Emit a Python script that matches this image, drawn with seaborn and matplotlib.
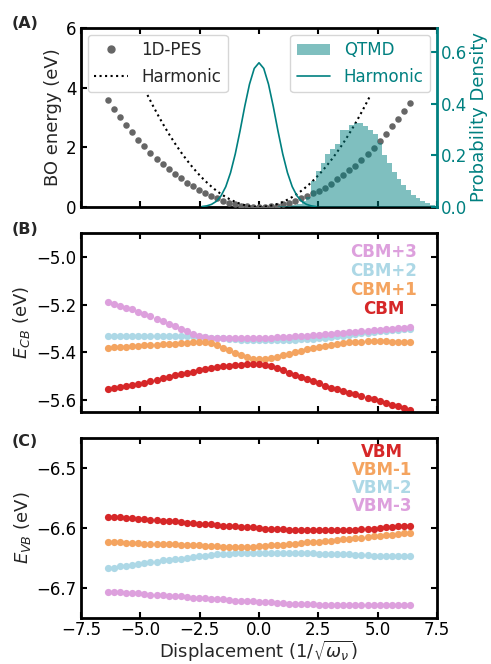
import numpy as np
import pandas as pd
import matplotlib
matplotlib.use("Agg")
import matplotlib.pyplot as plt
import seaborn as sns
from matplotlib.patches import Patch
from matplotlib.lines import Line2D

# ---------------- data ----------------
disp = [-6.350, -6.096, -5.842, -5.588, -5.334, -5.080, -4.826, -4.572, -4.318, -4.064,
        -3.810, -3.556, -3.302, -3.048, -2.794, -2.540, -2.286, -2.032, -1.778, -1.524,
        -1.270, -1.016, -0.762, -0.508, -0.254, 0.000, 0.254, 0.508, 0.762, 1.016,
        1.270, 1.524, 1.778, 2.032, 2.286, 2.540, 2.794, 3.048, 3.302, 3.556,
        3.810, 4.064, 4.318, 4.572, 4.826, 5.080, 5.334, 5.588, 5.842, 6.096, 6.350]

pes = [3.58, 3.27, 3.02, 2.75, 2.51, 2.26, 2.03, 1.82, 1.62, 1.44,
       1.27, 1.10, 0.96, 0.82, 0.69, 0.58, 0.47, 0.38, 0.30, 0.21,
       0.14, 0.09, 0.05, 0.02, 0.006, 0.0, 0.006, 0.02, 0.05, 0.09,
       0.14, 0.21, 0.29, 0.38, 0.46, 0.55, 0.65, 0.78, 0.93, 1.08,
       1.23, 1.39, 1.59, 1.79, 1.98, 2.20, 2.45, 2.71, 2.96, 3.21, 3.49]

harm_x = [-4.700, -4.465, -4.230, -3.995, -3.760, -3.525, -3.290, -3.055, -2.820, -2.585,
          -2.350, -2.115, -1.880, -1.645, -1.410, -1.175, -0.940, -0.705, -0.470, -0.235,
          0.000, 0.235, 0.470, 0.705, 0.940, 1.175, 1.410, 1.645, 1.880, 2.115,
          2.350, 2.585, 2.820, 3.055, 3.290, 3.525, 3.760, 3.995, 4.230, 4.465, 4.700]
harm_e = [3.755, 3.389, 3.042, 2.713, 2.403, 2.112, 1.840, 1.587, 1.352, 1.136,
          0.939, 0.760, 0.601, 0.460, 0.338, 0.235, 0.150, 0.0845, 0.0376, 0.0094,
          0.0, 0.0094, 0.0376, 0.0845, 0.150, 0.235, 0.338, 0.460, 0.601, 0.760,
          0.939, 1.136, 1.352, 1.587, 1.840, 2.112, 2.403, 2.713, 3.042, 3.389, 3.755]

psi_x = [-2.4, -2.2, -2.0, -1.8, -1.6, -1.4, -1.2, -1.0, -0.8, -0.6, -0.4, -0.2, 0.0,
         0.2, 0.4, 0.6, 0.8, 1.0, 1.2, 1.4, 1.6, 1.8, 2.0, 2.2, 2.4]
psi_d = [0.0018, 0.0044, 0.0103, 0.0219, 0.0433, 0.0789, 0.133, 0.206, 0.295, 0.391, 0.477, 0.538, 0.560,
         0.538, 0.477, 0.391, 0.295, 0.206, 0.133, 0.0789, 0.0433, 0.0219, 0.0103, 0.0044, 0.0018]

qtmd_edges = [0.8, 1.0, 1.2, 1.4, 1.6, 1.8, 2.0, 2.2, 2.4, 2.6, 2.8, 3.0, 3.2, 3.4, 3.6, 3.8, 4.0,
              4.2, 4.4, 4.6, 4.8, 5.0, 5.2, 5.4, 5.6, 5.8, 6.0, 6.2, 6.4, 6.6, 6.8, 7.0, 7.2, 7.4]
qtmd_centers = [0.9, 1.1, 1.3, 1.5, 1.7, 1.9, 2.1, 2.3, 2.5, 2.7, 2.9, 3.1, 3.3, 3.5, 3.7, 3.9, 4.1,
                4.3, 4.5, 4.7, 4.9, 5.1, 5.3, 5.5, 5.7, 5.9, 6.1, 6.3, 6.5, 6.7, 6.9, 7.1, 7.3]
qtmd_dens = [0.002, 0.003, 0.005, 0.008, 0.013, 0.022, 0.040, 0.100, 0.140, 0.170, 0.205, 0.225,
             0.245, 0.300, 0.300, 0.318, 0.328, 0.328, 0.315, 0.300, 0.285, 0.250, 0.200, 0.170,
             0.137, 0.110, 0.085, 0.066, 0.047, 0.034, 0.023, 0.014, 0.008]

cbm3 = [-5.188, -5.198, -5.205, -5.213, -5.220, -5.229, -5.239, -5.249, -5.259, -5.269,
        -5.280, -5.290, -5.301, -5.311, -5.322, -5.332, -5.336, -5.338, -5.339, -5.340,
        -5.341, -5.341, -5.341, -5.341, -5.341, -5.340, -5.339, -5.338, -5.337, -5.336,
        -5.335, -5.333, -5.331, -5.330, -5.328, -5.326, -5.324, -5.322, -5.320, -5.318,
        -5.316, -5.314, -5.312, -5.310, -5.308, -5.306, -5.304, -5.302, -5.300, -5.298, -5.295]
cbm2 = [-5.333, -5.333, -5.333, -5.333, -5.333, -5.333, -5.333, -5.333, -5.333, -5.333,
        -5.333, -5.333, -5.333, -5.333, -5.333, -5.334, -5.336, -5.338, -5.340, -5.342,
        -5.344, -5.346, -5.347, -5.348, -5.349, -5.350, -5.350, -5.350, -5.349, -5.349,
        -5.348, -5.347, -5.346, -5.345, -5.343, -5.341, -5.339, -5.336, -5.333, -5.330,
        -5.327, -5.324, -5.321, -5.318, -5.315, -5.312, -5.309, -5.307, -5.305, -5.303, -5.302]
cbm1 = [-5.381, -5.379, -5.378, -5.376, -5.375, -5.373, -5.371, -5.370, -5.368, -5.366,
        -5.365, -5.363, -5.361, -5.360, -5.358, -5.357, -5.356, -5.360, -5.368, -5.380,
        -5.392, -5.404, -5.413, -5.420, -5.426, -5.428, -5.427, -5.423, -5.418, -5.412,
        -5.406, -5.400, -5.394, -5.388, -5.382, -5.377, -5.372, -5.368, -5.364, -5.361,
        -5.358, -5.356, -5.355, -5.354, -5.354, -5.354, -5.354, -5.355, -5.355, -5.355, -5.356]
cbm0 = [-5.555, -5.551, -5.547, -5.542, -5.538, -5.533, -5.528, -5.522, -5.516, -5.509,
        -5.503, -5.497, -5.491, -5.486, -5.481, -5.476, -5.471, -5.467, -5.463, -5.459,
        -5.456, -5.453, -5.451, -5.449, -5.448, -5.449, -5.453, -5.459, -5.467, -5.476,
        -5.485, -5.494, -5.503, -5.512, -5.521, -5.530, -5.539, -5.548, -5.555, -5.562,
        -5.569, -5.576, -5.583, -5.590, -5.597, -5.604, -5.612, -5.619, -5.626, -5.633, -5.640]

vbm0 = [-6.581, -6.582, -6.582, -6.583, -6.584, -6.585, -6.585, -6.586, -6.587, -6.588,
        -6.589, -6.589, -6.590, -6.591, -6.592, -6.593, -6.593, -6.594, -6.595, -6.596,
        -6.597, -6.597, -6.598, -6.599, -6.599, -6.600, -6.601, -6.601, -6.602, -6.602,
        -6.603, -6.603, -6.603, -6.604, -6.604, -6.604, -6.604, -6.604, -6.604, -6.603,
        -6.603, -6.603, -6.602, -6.602, -6.601, -6.600, -6.599, -6.598, -6.597, -6.597, -6.596]
vbm1 = [-6.624, -6.624, -6.624, -6.625, -6.625, -6.625, -6.626, -6.626, -6.626, -6.627,
        -6.627, -6.627, -6.628, -6.628, -6.629, -6.629, -6.630, -6.630, -6.630, -6.631,
        -6.631, -6.631, -6.631, -6.631, -6.631, -6.630, -6.630, -6.629, -6.629, -6.628,
        -6.627, -6.626, -6.625, -6.624, -6.624, -6.623, -6.622, -6.621, -6.620, -6.619,
        -6.618, -6.617, -6.616, -6.615, -6.614, -6.613, -6.612, -6.611, -6.610, -6.609, -6.608]
vbm2 = [-6.667, -6.666, -6.664, -6.663, -6.661, -6.660, -6.658, -6.657, -6.656, -6.654,
        -6.653, -6.652, -6.651, -6.650, -6.648, -6.647, -6.646, -6.645, -6.644, -6.644,
        -6.643, -6.642, -6.642, -6.641, -6.641, -6.641, -6.641, -6.641, -6.641, -6.641,
        -6.641, -6.642, -6.642, -6.642, -6.642, -6.643, -6.643, -6.643, -6.644, -6.644,
        -6.644, -6.645, -6.645, -6.645, -6.646, -6.646, -6.646, -6.647, -6.647, -6.647, -6.647]
vbm3 = [-6.706, -6.707, -6.707, -6.708, -6.709, -6.709, -6.710, -6.711, -6.711, -6.712,
        -6.713, -6.713, -6.714, -6.715, -6.716, -6.716, -6.717, -6.718, -6.719, -6.719,
        -6.720, -6.721, -6.721, -6.722, -6.722, -6.723, -6.724, -6.724, -6.725, -6.725,
        -6.726, -6.726, -6.727, -6.727, -6.727, -6.728, -6.728, -6.728, -6.728, -6.729,
        -6.729, -6.729, -6.729, -6.729, -6.729, -6.729, -6.729, -6.729, -6.729, -6.729, -6.729]

cb_labels = ["CBM+3", "CBM+2", "CBM+1", "CBM"]
vb_labels = ["VBM", "VBM-1", "VBM-2", "VBM-3"]
x_ticks = [-7.5, -5.0, -2.5, 0.0, 2.5, 5.0, 7.5]

# ---------------- style ----------------
sns.set_theme(style="ticks")
plt.rcParams["font.family"] = ["DejaVu Sans"]
plt.rcParams["mathtext.fontset"] = "dejavusans"

RED = "#d62728"
ORANGE = "#f4a460"
LBLUE = "#add8e6"
PLUM = "#dda0dd"
TEAL = "#008080"
GRAY = "#666666"

fig = plt.figure(figsize=(4.91, 6.64), dpi=100)
L, R = 81 / 491, 437 / 491
H = 664
axA = fig.add_axes([L, 1 - 207 / H, R - L, 179 / H])
axB = fig.add_axes([L, 1 - 412 / H, R - L, 179 / H])
axC = fig.add_axes([L, 1 - 618 / H, R - L, 180 / H])

TICK = 12
LAB = 13


def style_axes(ax, right=True):
    for s in ax.spines.values():
        s.set_linewidth(2.0)
        s.set_color("black")
    ax.tick_params(direction="in", length=4, width=1.5, top=True, right=right,
                   labelsize=TICK, colors="black", pad=3)
    ax.set_xlim(-7.5, 7.5)
    ax.set_xticks(x_ticks)


# ---------------- panel A ----------------
axA2 = axA.twinx()
sns.scatterplot(x=disp, y=pes, color=GRAY, s=22, linewidth=0, ax=axA, zorder=3)
sns.lineplot(x=harm_x, y=harm_e, color="black", linestyle=":", linewidth=1.5, ax=axA,
             sort=False, zorder=3)
axA.set_ylim(0, 6)
axA.set_yticks([0, 2, 4, 6])
style_axes(axA, right=False)
axA.tick_params(labelbottom=False)
axA.set_ylabel("BO energy (eV)", fontsize=LAB, labelpad=3)
axA.spines["right"].set_visible(False)

sns.histplot(x=qtmd_centers, weights=qtmd_dens, bins=qtmd_edges, stat="count",
             color=TEAL, alpha=0.5, linewidth=0, element="bars", ax=axA2)
sns.lineplot(x=psi_x, y=psi_d, color=TEAL, linewidth=1.2, ax=axA2, sort=False)
axA2.set_ylim(0, 0.695)
axA2.set_yticks([0.0, 0.2, 0.4, 0.6])
axA2.set_yticklabels(["0.0", "0.2", "0.4", "0.6"])
for k in ["left", "top", "bottom"]:
    axA2.spines[k].set_visible(False)
axA2.spines["right"].set_color(TEAL)
axA2.spines["right"].set_linewidth(2.0)
axA2.tick_params(axis="y", direction="in", length=4, width=1.5, colors=TEAL,
                 labelsize=TICK, labelcolor=TEAL, pad=3)
axA2.set_ylabel("Probability Density", fontsize=LAB, color=TEAL, labelpad=2)
axA2.set_xlim(-7.5, 7.5)

leg1 = axA.legend(handles=[
    Line2D([], [], marker="o", linestyle="none", color=GRAY, markersize=5),
    Line2D([], [], linestyle=":", color="black", linewidth=1.5)],
    labels=["1D-PES", "Harmonic"], loc="upper left", fontsize=12,
    handlelength=2.0, borderaxespad=0.4)
leg1.set_zorder(10)
axA2.legend(handles=[Patch(facecolor=TEAL, alpha=0.5, edgecolor="none"),
                     Line2D([], [], color=TEAL, linewidth=1.2)],
            labels=["QTMD", "Harmonic"], loc="upper right", fontsize=12,
            labelcolor=TEAL, handlelength=2.0, borderaxespad=0.4)

# ---------------- panel B ----------------
for vals, c in [(cbm2, LBLUE), (cbm3, PLUM), (cbm1, ORANGE), (cbm0, RED)]:
    sns.scatterplot(x=disp, y=vals, color=c, s=27, linewidth=0, ax=axB)
axB.set_ylim(-5.65, -4.9)
axB.set_yticks([-5.6, -5.4, -5.2, -5.0])
style_axes(axB)
axB.tick_params(labelbottom=False)
axB.set_ylabel(r"$E_{CB}$ (eV)", fontsize=LAB, labelpad=3)
for lab, c, yy in zip(cb_labels, [PLUM, LBLUE, ORANGE, RED], [0.895, 0.789, 0.682, 0.575]):
    axB.text(0.85, yy, lab, color=c, fontsize=12, fontweight="bold",
             ha="center", va="center", transform=axB.transAxes)

# ---------------- panel C ----------------
for vals, c in [(vbm3, PLUM), (vbm2, LBLUE), (vbm1, ORANGE), (vbm0, RED)]:
    sns.scatterplot(x=disp, y=vals, color=c, s=27, linewidth=0, ax=axC)
axC.set_ylim(-6.75, -6.45)
axC.set_yticks([-6.7, -6.6, -6.5])
style_axes(axC)
axC.tick_params(axis="x", pad=2)
axC.set_ylabel(r"$E_{VB}$ (eV)", fontsize=LAB, labelpad=3)
axC.set_xlabel(r"Displacement ($1/\sqrt{\omega_\nu}$)", fontsize=LAB, labelpad=0)
for lab, c, yy in zip(vb_labels, [RED, ORANGE, LBLUE, PLUM], [0.924, 0.822, 0.72, 0.622]):
    axC.text(0.845, yy, lab, color=c, fontsize=12, fontweight="bold",
             ha="center", va="center", transform=axC.transAxes)

for lab, yp in [("(A)", 24), ("(B)", 229), ("(C)", 441)]:
    fig.text(12 / 491, 1 - yp / H, lab, fontsize=11.5, fontweight="bold",
             ha="left", va="center")

fig.savefig("out.png", dpi=100)
